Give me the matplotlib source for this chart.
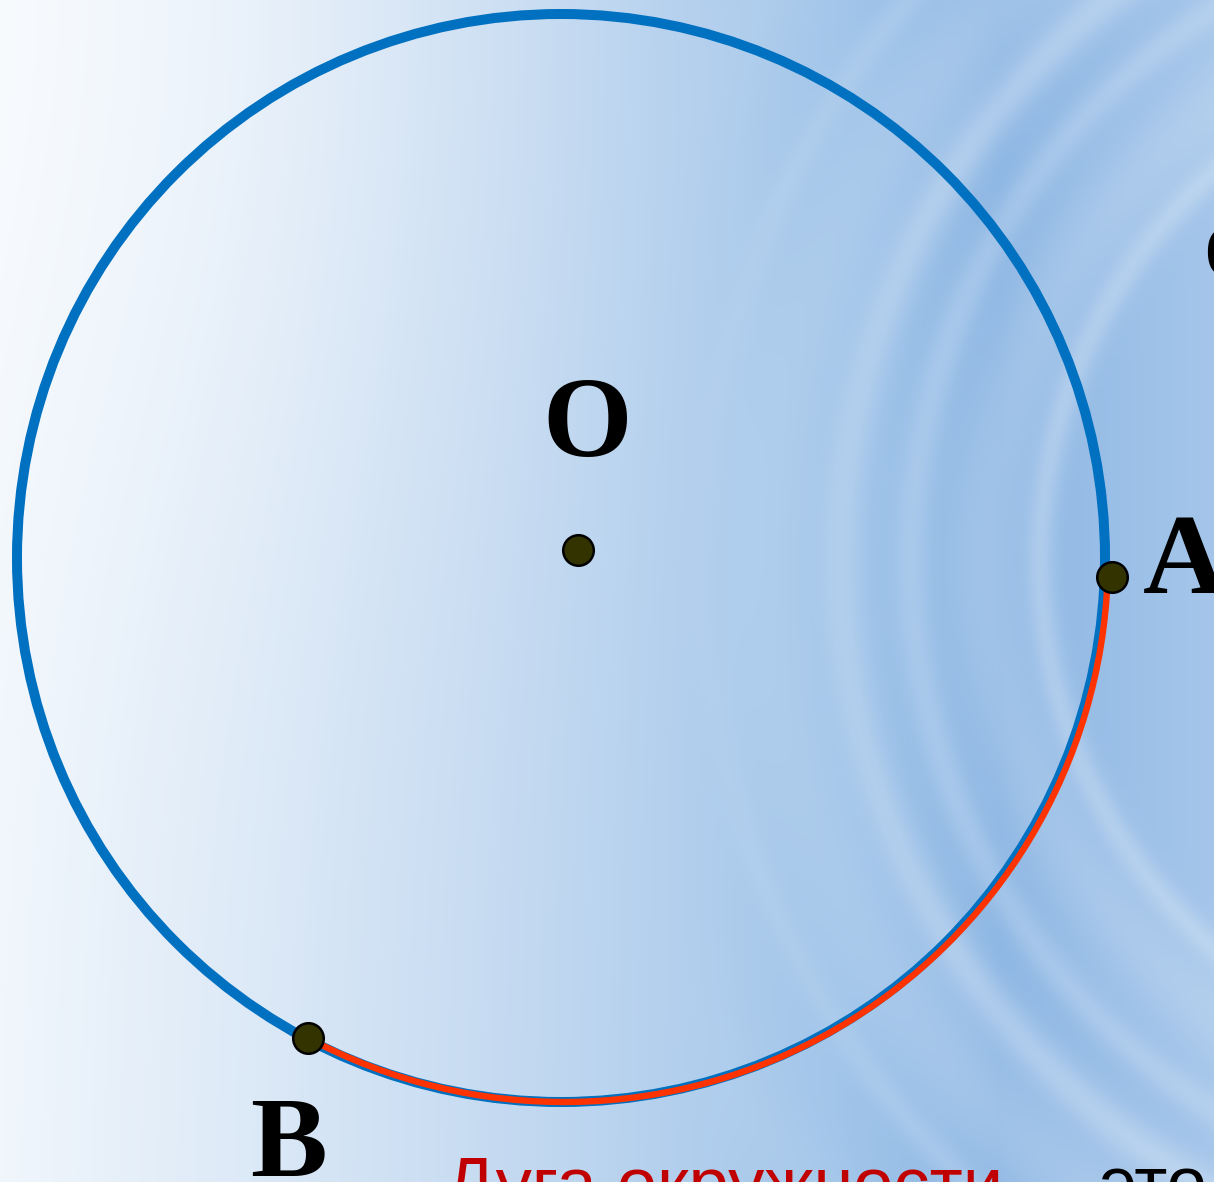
import numpy as np
import matplotlib.pyplot as plt
from matplotlib.patches import Circle, Arc

# ---- данные чертежа (в пикселях картинки, ось y вниз) ----
W, H = 1214, 1182
circle_center = (561, 558)
circle_radius = 544
arc_start_deg = 2      # точка A
arc_end_deg = 118      # точка B
point_names = ['O', 'A', 'B']
point_x = [578, 1112, 308]
point_y = [550, 577, 1038]
label_text = ['O', 'A', 'B']
label_x = [587, 1143, 250]
label_y = [456, 593, 1176]
label_ha = ['center', 'left', 'left']
caption_red = 'Дуга окружности'
caption_black = 'это'

# ---- фон: голубой градиент с кольцами ----
yy, xx = np.mgrid[0:H, 0:W].astype(float)
stops_x = [0, 250, 550, 850, 1000, 1214]
stops_c = np.array([[240, 246, 252], [220, 233, 247], [192, 215, 240],
                    [160, 196, 233], [142, 183, 228], [165, 198, 234]]) / 255.0
bg = np.zeros((H, W, 3))
for k in range(3):
    bg[..., k] = np.interp(xx, stops_x, stops_c[:, k])
# светлый угол слева сверху
glow = np.exp(-((xx / 450.0) ** 2 + (yy / 600.0) ** 2))
bg = bg + (1 - bg) * 0.5 * glow[..., None]
# мягкие кольца справа
d = np.hypot(xx - 1560, yy - 560)
rings = np.zeros_like(d)
for rr, w, a in [(520, 14, 0.22), (570, 40, 0.15), (650, 16, 0.18), (720, 20, 0.25),
                 (790, 50, 0.15), (860, 14, 0.15), (980, 40, 0.10)]:
    rings += a * np.exp(-((d - rr) / w) ** 2)
rings *= np.clip((xx - 650) / 300.0, 0, 1)
rings = np.clip(rings, 0, 0.45)
bg = bg + (1 - bg) * rings[..., None]
bg = np.clip(bg, 0, 1)

fig = plt.figure(figsize=(W / 100, H / 100), dpi=100)
ax = fig.add_axes([0, 0, 1, 1])
ax.imshow(bg, extent=(0, W, H, 0), aspect='auto', zorder=0)

# окружность и дуга AB
ax.add_patch(Circle(circle_center, circle_radius, fill=False,
                    edgecolor='#0070C0', linewidth=7.2, zorder=2))
ax.add_patch(Arc((circle_center[0] + 3, circle_center[1]), 2 * circle_radius, 2 * circle_radius,
                 theta1=arc_start_deg, theta2=arc_end_deg,
                 edgecolor='#FF3300', linewidth=4.6, zorder=3))

# точки
ax.plot(point_x, point_y, 'o', markersize=22, markerfacecolor='#333300',
        markeredgecolor='black', markeredgewidth=1.8, linestyle='none', zorder=4)

# подписи точек
for t, x, y, ha in zip(label_text, label_x, label_y, label_ha):
    ax.text(x, y, t, fontsize=83, fontweight='bold', family='Liberation Serif',
            ha=ha, va='baseline', color='black', zorder=5)

# обрезанная буква справа сверху
ax.text(1203, 276, 'о', fontsize=74, fontweight='bold', family='Liberation Serif',
        ha='left', va='baseline', color='black', zorder=5)

# подпись снизу (обрезана краем)
ax.text(445, 1208, caption_red, fontsize=52, family='Liberation Sans',
        ha='left', va='baseline', color='#C00000', zorder=5)
ax.text(1099, 1208, caption_black, fontsize=52, family='Liberation Sans',
        ha='left', va='baseline', color='black', zorder=5)

ax.set_xlim(0, W)
ax.set_ylim(H, 0)
ax.axis('off')
plt.savefig('out.png', dpi=100)
